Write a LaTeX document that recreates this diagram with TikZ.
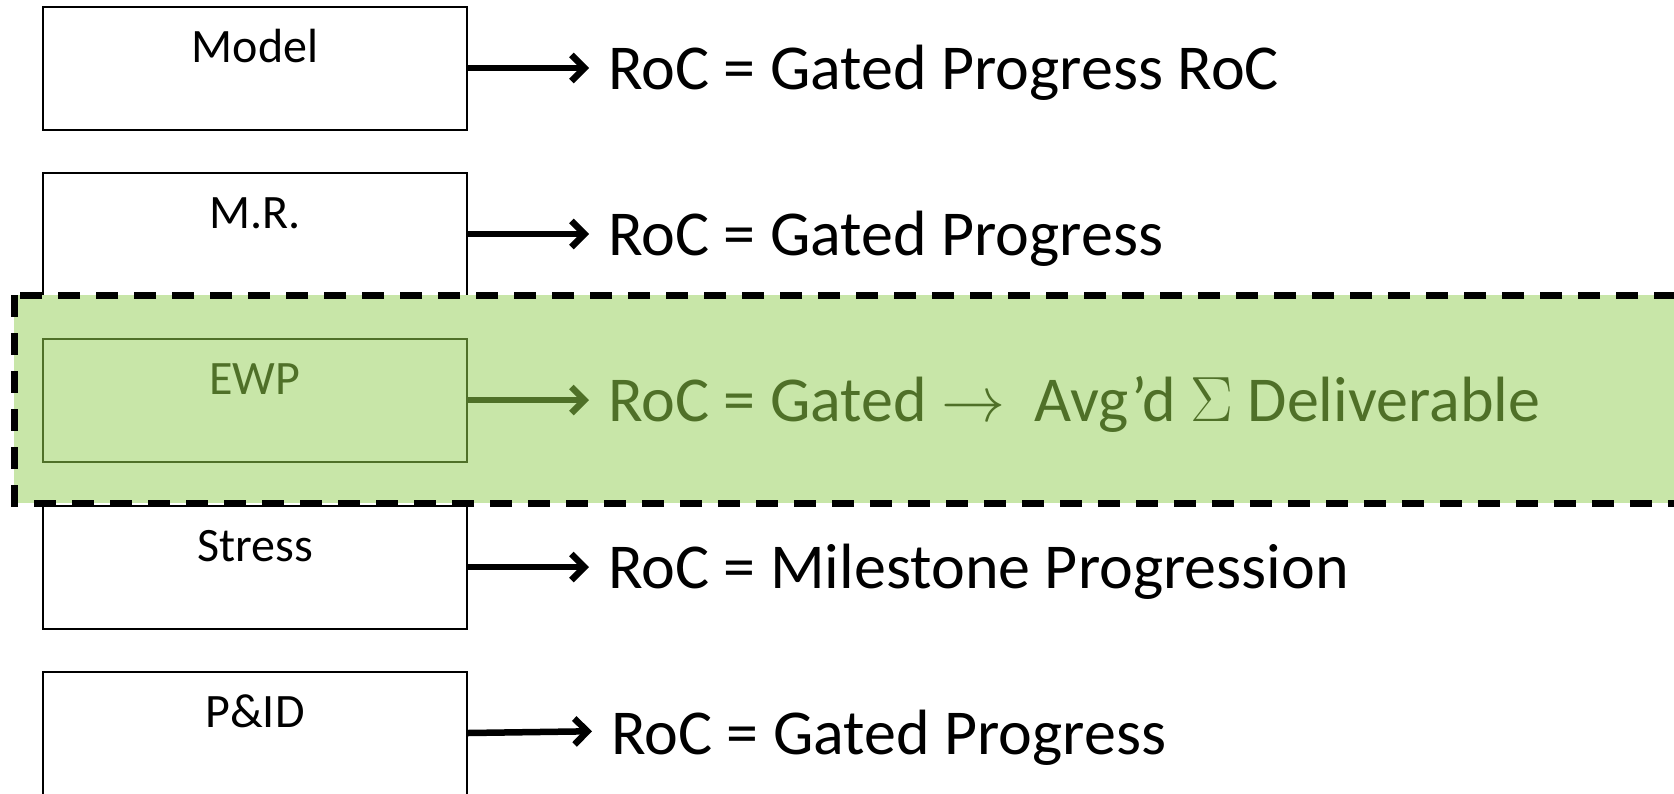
\documentclass[tikz,border=0pt]{standalone}
\usepackage{fix-cm}
\usepackage{fontspec}
\setmainfont{Carlito}
\usetikzlibrary{positioning, arrows.meta, calc}
\definecolor{bandgreen}{HTML}{C8E6A8}
\definecolor{ewpgreen}{HTML}{4F7028}
\tikzset{
  stagebox/.style={draw, line width=2pt, fill=white, minimum width=424pt, minimum height=123pt, inner sep=0pt},
  stagelabel/.style={font=\fontsize{48}{56}\selectfont, anchor=base, inner sep=0pt},
  rocnote/.style={font=\fontsize{64}{72}\selectfont, anchor=base west, inner sep=0pt},
  wire/.style={-{Straight Barb[length=13pt, width=26pt]}, line width=6.5pt, shorten >=19pt},
  focusband/.style={fill=bandgreen, draw=black, line width=7pt, dash pattern=on 22pt off 16pt}
}

\begin{document}
\begin{tikzpicture}[x=1pt, y=-1pt]
    \useasboundingbox (0,0) rectangle (1674,793);
    \clip (0,0) rectangle (1674,793);
    \node[stagebox] (model)  at (255, 68)  {};
    \node[stagebox] (mr)     at (255, 234) {};
    \node[stagebox] (stress) at (255, 567) {};
    \node[stagebox] (pid)    at (255, 733) {};
    %% highlighted EWP row sits on a dashed band running off the right edge
    \draw[focusband] (14,295) rectangle (1720,503);
    \node[stagebox, draw=ewpgreen, fill=none] (ewp) at (255, 400) {};
    \node[stagelabel] (model-t)  at ($(model)+(0,-6)$)  {Model};
    \node[stagelabel] (mr-t)     at ($(mr)+(0,-6)$)     {M.R.};
    \node[stagelabel, text=ewpgreen] (ewp-t) at ($(ewp)+(0,-6)$) {EWP};
    \node[stagelabel] (stress-t) at ($(stress)+(0,-6)$) {Stress};
    \node[stagelabel] (pid-t)    at ($(pid)+(0,-6)$)    {P\&ID};
    \node[rocnote] (roc-model)  at (608, 89)  {RoC = Gated Progress RoC};
    \node[rocnote] (roc-mr)     at (608, 255) {RoC = Gated Progress};
    \node[rocnote, text=ewpgreen] (roc-ewp) at (608, 421)
      {RoC = Gated $\rightarrow$\ \ Avg’d $\Sigma$ Deliverable};
    \node[rocnote] (roc-stress) at (608, 588) {RoC = Milestone Progression};
    \node[rocnote] (roc-pid)    at (611, 754) {RoC = Gated Progress};
    \draw[wire] (model.east)  -- (model.east -| roc-model.west);
    \draw[wire] (mr.east)     -- (mr.east -| roc-mr.west);
    \draw[wire, ewpgreen] (ewp.east) -- (ewp.east -| roc-ewp.west);
    \draw[wire] (stress.east) -- (stress.east -| roc-stress.west);
    \draw[wire] (pid.east)    -- ([yshift=2pt]pid.east -| roc-pid.west);
\end{tikzpicture}
\end{document}
